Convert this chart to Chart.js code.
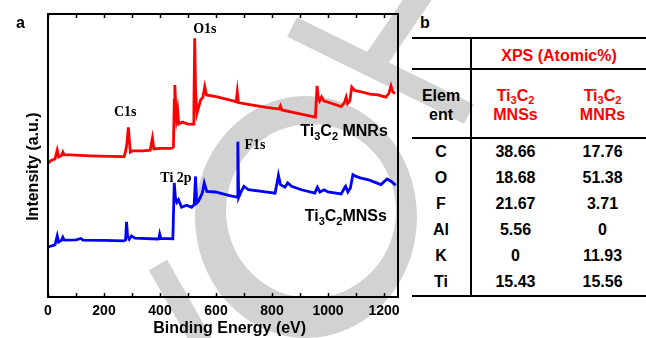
<!DOCTYPE html>
<html lang="en">
<head>
<meta charset="UTF-8">
<title>XPS survey spectra of Ti3C2</title>
<script src="https://cdn.jsdelivr.net/npm/chart.js"></script>
<style>
  body { margin: 0; background: #fff; }
  #wrap { position: relative; width: 646px; height: 338px; overflow: hidden; font-family: "Liberation Sans", Arial, sans-serif; }
  #mark, #spectra, #atomic, .tag { position: absolute; }
  #mark { left: 0; top: 0; }
  #spectra { left: 0; top: 0; }
  .tag { top: 15px; font-weight: bold; font-size: 16px; line-height: 16px; }
  #atomic {
    left: 412px; top: 37px; width: 234px;
    border-collapse: separate; border-spacing: 0;
    border-top: 2px solid #000; border-bottom: 2px solid #000;
    table-layout: fixed; font-weight: bold; font-size: 16px;
  }
  #atomic th, #atomic td { padding: 0; text-align: center; vertical-align: top; font-weight: bold; }
  #atomic tr > :first-child { border-right: 2px solid #000; }
  #atomic .r1 th { height: 21px; padding-top: 8px; line-height: 18px; border-bottom: 2px solid #000; }
  #atomic .r2 th { height: 51px; padding-top: 16px; line-height: 19px; border-bottom: 2px solid #000; }
  #atomic td { height: 26px; line-height: 26px; }
  #atomic .red { color: #ff0000; }
  #atomic sub { font-size: 11px; vertical-align: -3px; line-height: 0; }
</style>
</head>
<body>
<div id="wrap">
  <svg id="mark" width="646" height="338">
    <g fill="#d2d2d2" stroke="#d2d2d2">
      <path stroke="none" fill-rule="evenodd"
        d="M195 217 a111 121 0 1 0 222 0 a111 121 0 1 0 -222 0 Z M226 211 a85 87 0 1 0 170 0 a85 87 0 1 0 -170 0 Z"/>
      <line x1="292" y1="27" x2="469" y2="114" stroke-width="22"/>
      <line x1="424" y1="-10" x2="372" y2="66" stroke-width="24"/>
      <line x1="158" y1="265" x2="212" y2="360" stroke-width="21"/>
    </g>
  </svg>
  <canvas id="spectra" width="410" height="338"></canvas>
  <div class="tag" style="left:16px">a</div>
  <div class="tag" style="left:420px">b</div>
  <table id="atomic">
    <colgroup><col style="width:60px"><col style="width:87px"><col style="width:87px"></colgroup>
    <thead>
      <tr class="r1"><th></th><th colspan="2" class="red">XPS (Atomic%)</th></tr>
      <tr class="r2"><th>Elem<br>ent</th><th class="red" id="h1"></th><th class="red" id="h2"></th></tr>
    </thead>
    <tbody id="rows"></tbody>
  </table>
</div>

<script>
// survey spectra, binding energy (eV) vs. intensity (a.u., offset traces)
const energyMNRs = [0, 10, 25, 33, 38, 48, 53, 58, 80, 150, 220, 272, 278, 282, 287, 291, 294, 300, 340, 365,
  373, 378, 400, 440, 448, 451, 453, 456, 459, 463, 467, 480, 500, 518, 521, 524, 527, 532, 545, 553,
  560, 566, 600, 640, 672, 676, 680, 720, 780, 825, 830, 835, 900, 955, 961, 965, 970, 977, 985, 1020,
  1047, 1058, 1065, 1070, 1078, 1085, 1095, 1110, 1150, 1178, 1207, 1218, 1225, 1232, 1240];
const intensityMNRs = [47.2, 48.2, 48.8, 51.9, 49.5, 50.0, 51.2, 50.2, 50.2, 49.9, 49.7, 49.6, 51.9, 54.4, 59.9, 54.8, 51.2, 51.6, 51.6, 51.9,
  56.1, 52.3, 52.5, 52.5, 53.0, 69.6, 74.9, 67.8, 63.3, 66.1, 61.1, 61.8, 61.1, 61.1, 66.1, 91.4, 73.1, 64.9, 69.6, 70.5,
  74.3, 71.4, 70.8, 69.8, 69.0, 72.5, 68.7, 68.0, 67.0, 66.4, 67.5, 66.1, 64.7, 63.6, 74.6, 70.7, 69.3, 70.7, 69.3, 68.2,
  67.3, 68.6, 70.6, 68.4, 69.3, 74.2, 73.0, 72.7, 71.7, 71.4, 70.6, 72.1, 74.6, 72.4, 72.0];

const energyMNSs = [0, 10, 25, 33, 38, 48, 53, 58, 100, 117, 125, 200, 270, 277, 280.6, 284, 290, 298, 310, 390,
  396, 399, 403, 446, 449, 451, 455, 460, 466, 477, 495, 513, 522, 527, 531, 537, 551, 558, 567, 598,
  645, 675, 678, 681, 690, 700, 716, 763, 811, 818, 823, 830, 846, 856, 870, 905, 953, 962, 971, 986,
  1000, 1047, 1059, 1063, 1071, 1080, 1089, 1100, 1118, 1142, 1166, 1189, 1211, 1225, 1237, 1242];
const intensityMNSs = [17.6, 18.0, 18.4, 21.6, 19.4, 20.0, 21.1, 20.1, 20.2, 20.7, 20.1, 20.0, 19.8, 20.1, 26.6, 21.6, 20.4, 21.6, 20.8, 20.5,
  20.6, 22.2, 20.7, 20.6, 33.0, 40.3, 35.0, 33.5, 34.4, 31.7, 32.4, 31.7, 32.6, 42.6, 33.2, 33.8, 36.7, 40.3, 37.3, 37.1,
  35.9, 35.3, 54.9, 35.2, 37.3, 39.1, 37.9, 37.3, 36.7, 40.3, 43.0, 39.7, 38.8, 40.3, 39.1, 37.9, 36.7, 38.8, 37.1, 37.9,
  37.1, 36.4, 38.5, 39.1, 37.1, 38.5, 43.2, 42.6, 42.0, 41.5, 40.6, 39.7, 41.7, 40.9, 39.9, 39.5];

const seriesNames = ['Ti3C2 MNRs', 'Ti3C2MNSs'];
const nameAtEnergy = [901, 917];
const nameAtIntensity = [56.9, 27.0];

const peakNames = ['O1s', 'C1s', 'F1s', 'Ti 2p'];
const peakAtEnergy = [560, 276, 739, 457];
const peakAtIntensity = [94.5, 65.1, 53.7, 42.0];

// table b
const elements = ['C', 'O', 'F', 'Al', 'K', 'Ti'];
const atomicMNSs = [38.66, 18.68, 21.67, 5.56, 0, 15.43];
const atomicMNRs = [17.76, 51.38, 3.71, 0, 11.93, 15.56];

const energyMax = 1250;
const minorStep = 100;

// "Ti3C2" -> Ti<sub>3</sub>C<sub>2</sub>
function formulaParts(name) {
  return name.split(/(\d+)/).filter(s => s.length).map(s => ({ text: s, sub: /^\d+$/.test(s) }));
}

function drawFormula(ctx, name, x, y) {
  let cx = x;
  for (const p of formulaParts(name)) {
    ctx.font = p.sub ? 'bold 11px "Liberation Sans", Arial' : 'bold 16px "Liberation Sans", Arial';
    ctx.fillText(p.text, cx, p.sub ? y + 4 : y);
    cx += ctx.measureText(p.text).width;
  }
}

const frame = {
  id: 'frame',
  afterDraw(chart) {
    const { ctx, chartArea: a, scales: { x, y } } = chart;
    ctx.save();
    ctx.strokeStyle = '#000';
    ctx.lineWidth = 2;
    ctx.strokeRect(a.left, a.top, a.right - a.left, a.bottom - a.top);

    // inward ticks on bottom and top edges
    ctx.lineWidth = 1.5;
    ctx.beginPath();
    for (let v = 0; v <= energyMax; v += minorStep) {
      const px = Math.round(x.getPixelForValue(v)) + 0.5;
      ctx.moveTo(px, a.bottom); ctx.lineTo(px, a.bottom - 4);
      ctx.moveTo(px, a.top); ctx.lineTo(px, a.top + 4);
    }
    ctx.stroke();

    // peak assignments
    ctx.fillStyle = '#000';
    ctx.font = 'bold 14px "Liberation Serif", "Times New Roman", serif';
    ctx.textAlign = 'center';
    ctx.textBaseline = 'middle';
    peakNames.forEach((n, i) => {
      ctx.fillText(n, x.getPixelForValue(peakAtEnergy[i]), y.getPixelForValue(peakAtIntensity[i]));
    });

    // trace names
    ctx.textAlign = 'left';
    ctx.textBaseline = 'alphabetic';
    seriesNames.forEach((n, i) => {
      drawFormula(ctx, n, x.getPixelForValue(nameAtEnergy[i]), y.getPixelForValue(nameAtIntensity[i]));
    });
    ctx.restore();
  }
};

const toPoints = (ex, iy) => ex.map((e, i) => ({ x: e, y: iy[i] }));

new Chart(document.getElementById('spectra'), {
  type: 'line',
  data: {
    datasets: [
      { label: seriesNames[0], data: toPoints(energyMNRs, intensityMNRs), borderColor: '#ff0000', borderWidth: 2.8 },
      { label: seriesNames[1], data: toPoints(energyMNSs, intensityMNSs), borderColor: '#0000ff', borderWidth: 2.8 }
    ]
  },
  options: {
    responsive: false,
    animation: false,
    events: [],
    layout: { padding: { left: 0, top: 14, right: 12, bottom: 0 } },
    elements: { point: { radius: 0 }, line: { tension: 0 } },
    plugins: { legend: { display: false }, tooltip: { enabled: false } },
    scales: {
      x: {
        type: 'linear',
        min: 0,
        max: energyMax,
        grid: { display: false, drawTicks: false },
        border: { display: false },
        ticks: {
          stepSize: 200,
          includeBounds: false,
          autoSkip: false,
          maxRotation: 0,
          padding: 6,
          color: '#000',
          callback: v => String(v),
          font: { family: '"Liberation Sans", Arial, sans-serif', size: 14, weight: 'bold' }
        },
        title: {
          display: true,
          text: '   Binding Energy (eV)',
          color: '#000',
          padding: { top: 0, bottom: 0 },
          font: { family: '"Liberation Sans", Arial, sans-serif', size: 16, weight: 'bold' }
        },
        afterFit(scale) { scale.height = 41; }
      },
      y: {
        min: 0,
        max: 100,
        grid: { display: false, drawTicks: false },
        border: { display: false },
        ticks: { display: false },
        title: {
          display: true,
          text: 'Intensity (a.u.)     ',
          color: '#000',
          padding: { top: 24, bottom: 0 },
          font: { family: '"Liberation Sans", Arial, sans-serif', size: 16, weight: 'bold' }
        },
        afterFit(scale) { scale.width = 48; }
      }
    }
  },
  plugins: [frame]
});

// table: column heads and element rows
document.getElementById('h1').innerHTML = 'Ti<sub>3</sub>C<sub>2</sub><br>MNSs';
document.getElementById('h2').innerHTML = 'Ti<sub>3</sub>C<sub>2</sub><br>MNRs';
const tbody = document.getElementById('rows');
elements.forEach((el, i) => {
  const tr = document.createElement('tr');
  [el, atomicMNSs[i], atomicMNRs[i]].forEach(v => {
    const td = document.createElement('td');
    td.textContent = String(v);
    tr.appendChild(td);
  });
  tbody.appendChild(tr);
});
</script>
</body>
</html>
